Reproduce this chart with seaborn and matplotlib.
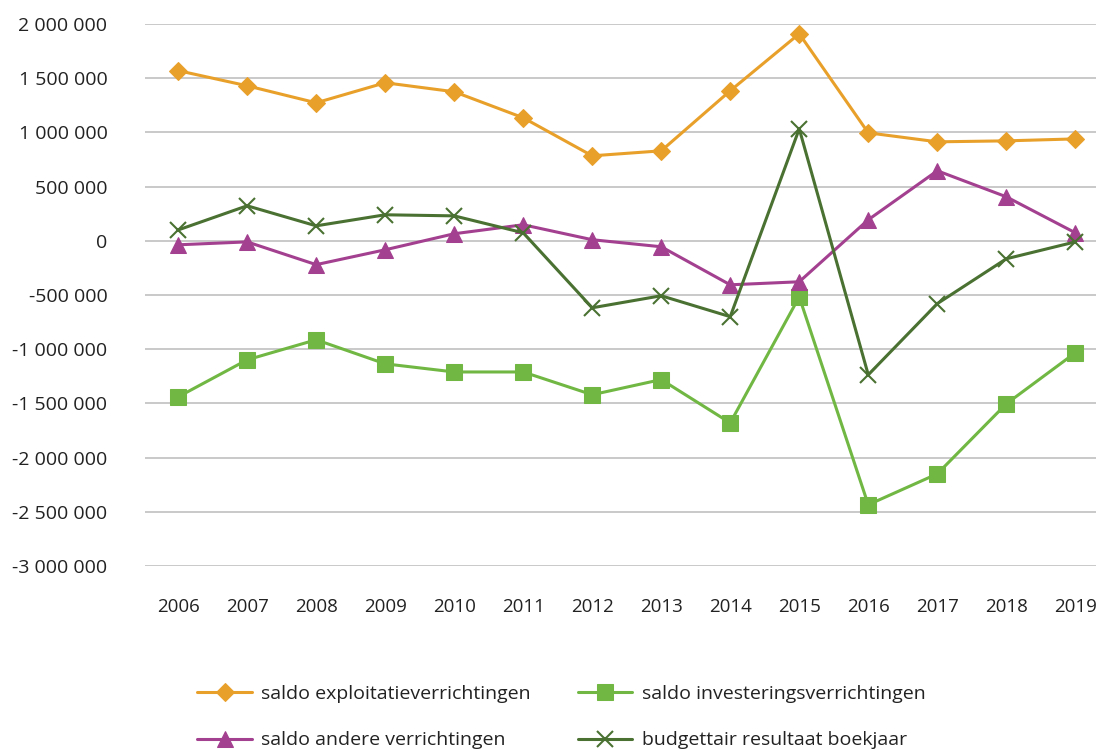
import matplotlib
matplotlib.use("Agg")
import matplotlib.pyplot as plt
import seaborn as sns
import pandas as pd
from matplotlib.ticker import FuncFormatter

years = ["2006", "2007", "2008", "2009", "2010", "2011", "2012", "2013",
         "2014", "2015", "2016", "2017", "2018", "2019"]
exploitatie = [1570000, 1430000, 1273000, 1458000, 1375000, 1135000, 784000, 830000,
               1384000, 1910000, 996000, 913000, 922000, 940000]
investering = [-1440000, -1098000, -913000, -1135000, -1210000, -1210000, -1420000, -1280000,
               -1680000, -517000, -2435000, -2150000, -1504000, -1033000]
andere = [-37000, -10000, -220000, -83000, 65000, 148000, 10000, -55000,
          -406000, -378000, 194000, 646000, 406000, 74000]
budgettair = [100000, 323000, 138000, 240000, 230000, 74000, -618000, -507000,
              -700000, 1033000, -1236000, -580000, -166000, -10000]

labels = ["saldo exploitatieverrichtingen", "saldo investeringsverrichtingen",
          "saldo andere verrichtingen", "budgettair resultaat boekjaar"]

sns.set_theme(style="white")
plt.rcParams['font.family'] = ['Open Sans', 'DejaVu Sans']

fig = plt.figure(figsize=(10.96, 7.49), dpi=100)
ax = fig.add_axes([145/1096, 1 - 566/749, (1096-145)/1096, 542/749])

series = [
    (exploitatie, labels[0], "#E8A02A", "D", 9, {}),
    (investering, labels[1], "#70B843", "s", 11, {}),
    (andere, labels[2], "#A3408F", "^", 12, {}),
    (budgettair, labels[3], "#4A7131", "x", 12, {"markeredgewidth": 1.5}),
]
xs = list(range(len(years)))
for vals, lab, col, mk, ms, extra in series:
    df = pd.DataFrame({"x": xs, "y": vals})
    sns.lineplot(data=df, x="x", y="y", ax=ax, color=col, marker=mk, markersize=ms,
                 markeredgecolor=col, markerfacecolor=col, linewidth=2.2, label=lab, **extra)

ax.set_ylim(-3000000, 2000000)
ax.set_yticks(range(-3000000, 2000001, 500000))
ax.yaxis.set_major_formatter(FuncFormatter(lambda v, p: f"{int(v):,}".replace(",", " ")))
ax.set_xlim(-0.48, 13.3)
ax.set_xticks(xs)
ax.set_xticklabels(years)
ax.set_xlabel("")
ax.set_ylabel("")
ax.grid(axis="y", color="#c0c0c0", linewidth=1.2)
ax.set_axisbelow(True)
for s in ax.spines.values():
    s.set_visible(False)
ax.tick_params(axis="y", length=0, pad=27, labelsize=14, labelcolor="#222222")
ax.tick_params(axis="x", length=0, pad=23, labelsize=13.5, labelcolor="#222222")

handles, labs = ax.get_legend_handles_labels()
order = [0, 2, 1, 3]
ax.legend([handles[i] for i in order], [labs[i] for i in order],
          loc="upper left", bbox_to_anchor=(0.055, -0.22), ncol=2, frameon=False,
          fontsize=14, handlelength=2.8, columnspacing=2.4, labelspacing=1.45,
          handletextpad=0.5, borderpad=0, borderaxespad=0, labelcolor="#222222")

fig.savefig("out.png", dpi=100)
